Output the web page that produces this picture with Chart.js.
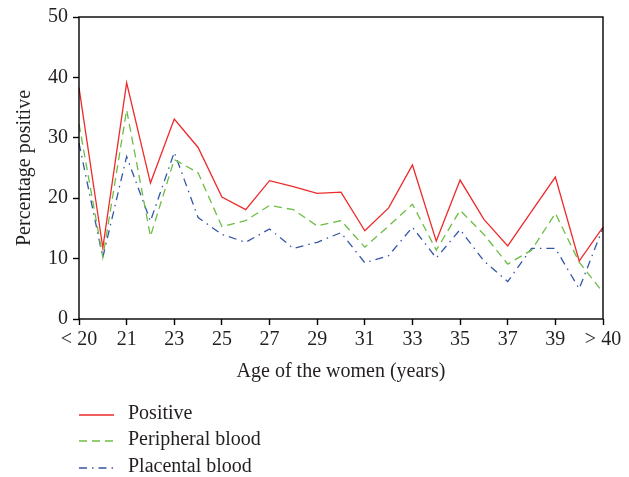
<!DOCTYPE html>
<html>
<head>
<meta charset="utf-8">
<script src="https://cdn.jsdelivr.net/npm/chart.js@4.4.1/dist/chart.umd.min.js"></script>
<style>
  html, body { margin: 0; padding: 0; background: #fff; }
  #wrap { width: 629px; height: 477px; position: relative; }
</style>
</head>
<body>
<div id="wrap"><canvas id="chart" width="629" height="477"></canvas></div>
<script>
const ages = ['< 20', '20', '21', '22', '23', '24', '25', '26', '27', '28', '29', '30',
    '31', '32', '33', '34', '35', '36', '37', '38', '39', '40', '> 40'];
const positive = [38.3, 11.8, 39.1, 22.5, 33.1, 28.4, 20.2, 18.1, 22.9, 21.9, 20.8, 21.0,
    14.6, 18.4, 25.5, 12.9, 23.0, 16.5, 12.1, 17.8, 23.5, 9.6, 15.2];
const peripheral = [32.3, 10.2, 34.6, 13.7, 26.4, 24.2, 15.3, 16.3, 18.8, 18.1, 15.4, 16.3,
    11.9, 15.4, 19.0, 11.4, 18.0, 14.0, 9.1, 11.4, 17.5, 9.4, 4.4];
const placental = [29.1, 10.2, 26.9, 16.2, 27.6, 16.8, 14.0, 12.7, 14.9, 11.7, 12.7, 14.3,
    9.3, 10.5, 15.2, 10.1, 14.8, 9.6, 6.2, 11.7, 11.7, 5.0, 15.1];
const yTicks = [0, 10, 20, 30, 40, 50];

const textColor = '#231f20';
const serif = "'Liberation Serif', 'DejaVu Serif', serif";

// box around the plot + legend stacked under the axis title
const frameAndLegend = {
    id: 'frameAndLegend',
    afterDraw(chart) {
        const c = chart.ctx;
        const a = chart.chartArea;
        c.save();
        c.strokeStyle = '#000';
        c.lineWidth = 1.4;
        c.strokeRect(a.left, a.top, a.right - a.left, a.bottom - a.top);

        const rows = [415, 441, 468];
        c.font = '20px ' + serif;
        c.textBaseline = 'middle';
        chart.data.datasets.forEach(function(ds, i) {
            c.beginPath();
            c.setLineDash(ds.borderDash || []);
            c.strokeStyle = ds.borderColor;
            c.lineWidth = ds.borderWidth;
            c.moveTo(79, rows[i]);
            c.lineTo(114, rows[i]);
            c.stroke();
            c.setLineDash([]);
            c.fillStyle = textColor;
            c.fillText(ds.label, 128, rows[i] - 1);
        });
        c.restore();
    }
};

const ctx = document.querySelector('#chart');
const chart = new Chart(ctx, {
    type: 'line',
    plugins: [frameAndLegend],
    data: {
        labels: ages,
        datasets: [{
            label: 'Positive',
            data: positive,
            borderColor: '#ee2a2a',
            borderWidth: 1.3
        }, {
            label: 'Peripheral blood',
            data: peripheral,
            borderColor: '#6cbd45',
            borderWidth: 1.3,
            borderDash: [8, 5]
        }, {
            label: 'Placental blood',
            data: placental,
            borderColor: '#3356a8',
            borderWidth: 1.3,
            borderDash: [8, 5, 1.5, 5]
        }]
    },
    options: {
        responsive: false,
        animation: false,
        layout: {
            padding: { left: 0, top: 14, right: 26, bottom: 87 }
        },
        elements: {
            point: { radius: 0 },
            line: { tension: 0 }
        },
        plugins: {
            legend: { display: false },
            tooltip: { enabled: false }
        },
        scales: {
            x: {
                offset: false,
                afterFit: function(s) { s.height = 71; },
                border: { display: false },
                grid: {
                    drawOnChartArea: false,
                    drawTicks: true,
                    tickLength: 6,
                    tickWidth: 1.4,
                    tickColor: function(context) {
                        return context.index % 2 === 0 ? '#000' : 'rgba(0,0,0,0)';
                    }
                },
                ticks: {
                    autoSkip: false,
                    maxRotation: 0,
                    padding: 3,
                    color: textColor,
                    font: { family: serif, size: 20 },
                    callback: function(value, index) {
                        return index % 2 === 0 ? ages[index] : '';
                    }
                },
                title: {
                    display: true,
                    text: 'Age of the women (years)',
                    color: textColor,
                    font: { family: serif, size: 20 },
                    padding: { top: 2, bottom: 6 }
                }
            },
            y: {
                min: 0,
                max: 50,
                afterFit: function(s) { s.width = 79; },
                afterBuildTicks: function(s) {
                    s.ticks = yTicks.map(function(v) { return { value: v }; });
                },
                border: { display: false },
                grid: {
                    drawOnChartArea: false,
                    drawTicks: true,
                    tickLength: 6,
                    tickWidth: 1.4,
                    tickColor: '#000'
                },
                ticks: {
                    padding: 5,
                    color: textColor,
                    font: { family: serif, size: 20 }
                },
                title: {
                    display: true,
                    text: 'Percentage positive',
                    color: textColor,
                    font: { family: serif, size: 20 },
                    padding: { top: 13, bottom: 0 }
                }
            }
        }
    }
});
</script>
</body>
</html>
